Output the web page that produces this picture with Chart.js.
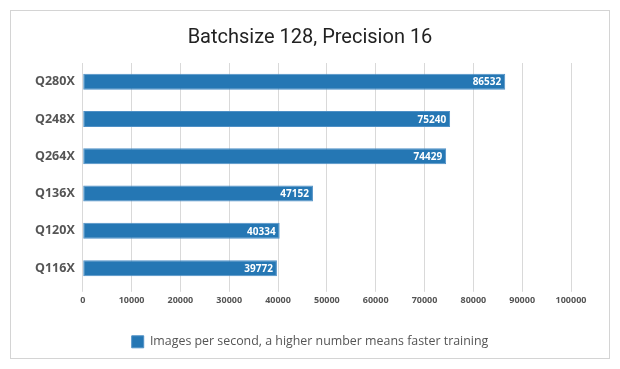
<!DOCTYPE html>
<html lang="en">

<head>
    <title>Batchsize 128, Precision 16</title>
    <meta charset="utf-8">
    <script src="https://cdn.jsdelivr.net/npm/chart.js"></script>
    <style>
        body { margin: 0; background: #fff; }
        #wrap { position: absolute; left: 0; top: 0; width: 620px; height: 369px; }
    </style>
</head>

<body>
    <div id="wrap"><canvas id="gpuChart" width="620" height="369"></canvas></div>

    <script>
        const gpus = ['Q280X', 'Q248X', 'Q264X', 'Q136X', 'Q120X', 'Q116X'];
        const imagesPerSecond = [86532, 75240, 74429, 47152, 40334, 39772];
        const seriesLabel = 'Images per second, a higher number means faster training';
        const chartTitle = 'Batchsize 128, Precision 16';

        // outer grey frame
        const framePlugin = {
            id: 'frame',
            beforeDraw: (chart) => {
                const c = chart.ctx;
                c.save();
                c.fillStyle = '#fff';
                c.fillRect(0, 0, chart.width, chart.height);
                c.strokeStyle = '#d4d4d4';
                c.lineWidth = 1;
                c.strokeRect(10.5, 10.5, 599, 348);
                c.restore();
            }
        };

        // value printed inside the end of each bar
        const barValuePlugin = {
            id: 'barValues',
            afterDatasetsDraw: (chart) => {
                const c = chart.ctx;
                const meta = chart.getDatasetMeta(0);
                c.save();
                c.font = 'bold 10px "Open Sans"';
                c.fillStyle = '#fff';
                c.textAlign = 'right';
                c.textBaseline = 'middle';
                meta.data.forEach((bar, i) => {
                    c.fillText(chart.data.datasets[0].data[i], bar.x - 4, bar.y + 1);
                });
                c.restore();
            }
        };

        const ctx = document.getElementById('gpuChart').getContext('2d');
        new Chart(ctx, {
            type: 'bar',
            data: {
                labels: gpus,
                datasets: [{
                    label: seriesLabel,
                    data: imagesPerSecond,
                    backgroundColor: '#2577b4',
                    borderColor: '#4f90c6',
                    borderWidth: 1,
                    borderSkipped: false,
                    categoryPercentage: 0.86,
                    barPercentage: 0.5
                }]
            },
            options: {
                indexAxis: 'y',
                responsive: false,
                animation: false,
                layout: {
                    padding: { left: 27, right: 27, top: 20, bottom: 11 }
                },
                scales: {
                    x: {
                        min: 0,
                        max: 100000,
                        ticks: {
                            stepSize: 10000,
                            color: '#555',
                            font: { family: 'Open Sans', size: 9, weight: 'bold' },
                            padding: 3,
                            callback: (v) => String(v)
                        },
                        grid: { color: '#d9d9d9', lineWidth: 1, drawTicks: true, tickLength: 5 },
                        border: { display: false },
                        afterFit: (scale) => { scale.height += 5; }
                    },
                    y: {
                        ticks: {
                            color: '#555',
                            font: { family: 'Open Sans', size: 12.5, weight: 'bold' },
                            padding: 8
                        },
                        grid: { display: false, drawTicks: false },
                        border: { display: false }
                    },
                    // empty axis on the right, keeps the plot narrower than the centred title
                    yRight: {
                        type: 'category',
                        position: 'right',
                        ticks: { display: false },
                        grid: { display: false, drawTicks: false },
                        border: { display: false },
                        afterFit: (scale) => { scale.width = 22; }
                    }
                },
                plugins: {
                    title: {
                        display: true,
                        text: chartTitle,
                        color: '#222',
                        font: { family: 'Roboto', size: 20, weight: 'normal' },
                        padding: { top: 6, bottom: 13 }
                    },
                    legend: {
                        position: 'bottom',
                        labels: {
                            color: '#555',
                            boxWidth: 12,
                            boxHeight: 12,
                            font: { family: 'Open Sans', size: 12.4 },
                            padding: 22
                        }
                    },
                    tooltip: { enabled: false }
                }
            },
            plugins: [framePlugin, barValuePlugin]
        });
    </script>
</body>

</html>
